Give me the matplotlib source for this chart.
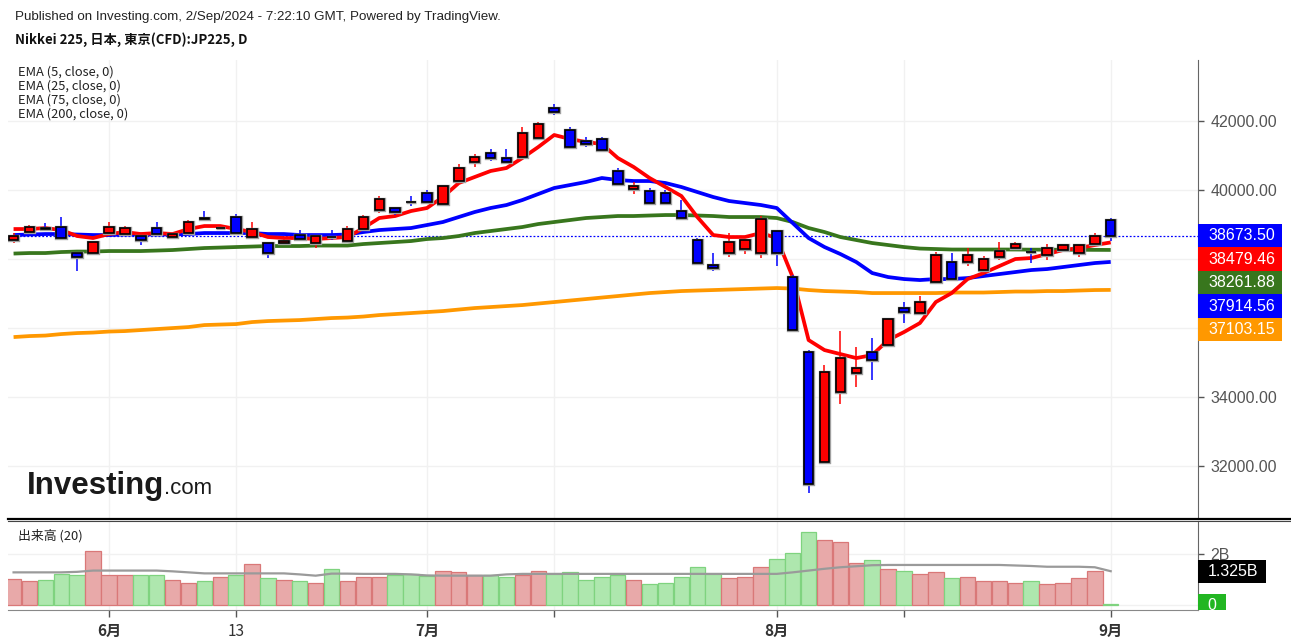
import numpy as np
import pandas as pd
import matplotlib
matplotlib.use("Agg")
import matplotlib.pyplot as plt
from matplotlib.patches import Rectangle
from matplotlib.transforms import Bbox, TransformedBbox

plt.rcParams['font.family'] = ['Liberation Sans', 'Noto Sans CJK JP', 'DejaVu Sans']

# trading days (Tokyo holidays 15 Jul and 12 Aug have no bar)
dates = [d for d in pd.bdate_range('2024-05-24', '2024-09-02')
         if d not in (pd.Timestamp('2024-07-15'), pd.Timestamp('2024-08-12'))]

opens = [38549, 38781, 38897, 38926, 38172, 38172, 38752, 38723, 38665, 38897,
         38636, 38752, 39187, 38885, 39216, 38636, 38462, 38462, 38694, 38462,
         38640, 38520, 38868, 39419, 39477, 39660, 39912, 39593, 40260, 40811,
         41072, 40927, 40956, 41507, 42377, 41739, 41420, 41478, 40550, 40028,
         39970, 39912, 39390, 38549, 37824, 38172, 38288, 38172, 38810, 37476,
         35301, 32111, 34141, 34692, 35301, 35504, 36577, 36432, 37331, 37911,
         37911, 37679, 38056, 38317, 38215, 38114, 38259, 38172, 38433, 39129]
highs = [38752, 38984, 39042, 39216, 38201, 38520, 39071, 38955, 38694, 39071,
         38752, 39129, 39390, 38930, 39303, 39071, 38491, 38578, 38839, 38694,
         38839, 38955, 39274, 39825, 39506, 39825, 39999, 40144, 40753, 41043,
         41188, 41188, 41826, 41971, 42493, 41826, 41536, 41536, 40637, 40231,
         40057, 39999, 39709, 38607, 38172, 38752, 38578, 39245, 38839, 37534,
         35359, 34924, 35910, 35446, 35707, 36287, 36751, 36925, 38201, 38172,
         38317, 38085, 38491, 38491, 38317, 38433, 38433, 38433, 38752, 39187]
lows = [38462, 38723, 38839, 38594, 37650, 38143, 38723, 38694, 38404, 38694,
        38607, 38723, 39143, 38870, 38723, 38607, 38027, 38433, 38549, 38317,
        38549, 38491, 38839, 39332, 39274, 39535, 39622, 39535, 40231, 40666,
        40840, 40782, 40927, 41478, 42174, 41217, 41246, 41130, 40144, 39883,
        39593, 39564, 39158, 37853, 37650, 38056, 38143, 38027, 37795, 35910,
        31212, 32082, 33793, 34286, 34489, 35475, 36142, 36403, 37302, 37389,
        37795, 37650, 37969, 38259, 37882, 37969, 38230, 38056, 38404, 38520]
closes = [38665, 38926, 38868, 38607, 38056, 38491, 38926, 38897, 38549, 38723,
          38723, 39071, 39158, 38900, 38752, 38868, 38172, 38520, 38578, 38665,
          38630, 38868, 39216, 39738, 39361, 39645, 39651, 40115, 40637, 40956,
          40927, 40811, 41652, 41913, 42261, 41246, 41333, 41159, 40173, 40115,
          39622, 39622, 39187, 37882, 37737, 38491, 38549, 39158, 38172, 35939,
          31473, 34721, 35127, 34837, 35069, 36258, 36461, 36751, 38114, 37418,
          38114, 37998, 38230, 38433, 38200, 38317, 38404, 38404, 38665, 38673.50]

ema5 = [38868, 38868, 38897, 38839, 38665, 38607, 38723, 38781, 38723, 38752,
        38723, 38868, 38955, 38955, 38868, 38781, 38636, 38607, 38607, 38578,
        38607, 38636, 38897, 39187, 39245, 39390, 39477, 39796, 40202, 40376,
        40550, 40637, 40927, 41246, 41594, 41478, 41391, 41333, 40927, 40666,
        40347, 40086, 39825, 39216, 38694, 38636, 38636, 38752, 38607, 37476,
        35649, 35359, 35243, 35127, 35214, 35649, 35881, 36142, 36751, 37012,
        37418, 37592, 37795, 37998, 38027, 38143, 38259, 38317, 38404, 38479.46]
ema25 = [38694, 38709, 38723, 38723, 38709, 38694, 38694, 38709, 38709, 38709,
         38709, 38723, 38752, 38752, 38752, 38752, 38723, 38723, 38694, 38694,
         38694, 38709, 38781, 38839, 38868, 38897, 38984, 39071, 39216, 39361,
         39477, 39564, 39709, 39883, 40057, 40144, 40231, 40347, 40289, 40260,
         40260, 40202, 40086, 39941, 39796, 39680, 39622, 39564, 39477, 39042,
         38607, 38346, 38143, 37911, 37592, 37476, 37418, 37389, 37418, 37418,
         37447, 37505, 37563, 37621, 37679, 37708, 37766, 37824, 37882, 37914.56]
ema75 = [38157, 38172, 38172, 38201, 38215, 38215, 38230, 38230, 38230, 38244,
         38259, 38288, 38317, 38331, 38346, 38360, 38375, 38375, 38375, 38389,
         38389, 38389, 38433, 38462, 38491, 38520, 38578, 38607, 38665, 38752,
         38810, 38868, 38926, 39013, 39071, 39129, 39187, 39216, 39245, 39245,
         39260, 39274, 39274, 39260, 39245, 39216, 39216, 39216, 39187, 39071,
         38897, 38781, 38636, 38549, 38462, 38404, 38346, 38302, 38288, 38274,
         38274, 38274, 38274, 38274, 38270, 38270, 38266, 38266, 38264, 38261.88]
ema200 = [35736, 35765, 35780, 35823, 35852, 35867, 35896, 35910, 35939, 35968,
          35997, 36026, 36084, 36099, 36113, 36171, 36200, 36215, 36229, 36258,
          36287, 36302, 36331, 36374, 36403, 36432, 36461, 36490, 36534, 36577,
          36606, 36635, 36664, 36708, 36751, 36795, 36838, 36882, 36925, 36969,
          37012, 37041, 37070, 37085, 37099, 37114, 37128, 37143, 37157, 37143,
          37099, 37070, 37056, 37041, 37012, 37012, 37012, 37012, 37012, 37027,
          37027, 37027, 37041, 37056, 37056, 37070, 37070, 37085, 37099, 37103.15]

# volume in billions, and its 20-day average
volume = [1.01, 0.94, 0.98, 1.22, 1.18, 2.12, 1.16, 1.16, 1.16, 1.16,
          0.98, 0.87, 0.94, 1.11, 1.18, 1.60, 1.06, 0.98, 0.94, 0.87,
          1.41, 0.94, 1.11, 1.11, 1.18, 1.23, 1.15, 1.35, 1.29, 1.16,
          1.16, 1.10, 1.18, 1.35, 1.23, 1.28, 0.99, 1.11, 1.18, 0.99,
          0.81, 0.87, 1.10, 1.48, 1.23, 1.06, 1.11, 1.48, 1.82, 2.05,
          2.87, 2.54, 2.46, 1.64, 1.76, 1.41, 1.33, 1.22, 1.28, 1.05,
          1.11, 0.93, 0.93, 0.86, 0.93, 0.81, 0.86, 1.05, 1.33, 0.02]
vol_ma = [1.28, 1.28, 1.28, 1.28, 1.30, 1.35, 1.35, 1.35, 1.35, 1.35,
          1.32, 1.28, 1.24, 1.24, 1.24, 1.24, 1.24, 1.24, 1.20, 1.15,
          1.23, 1.23, 1.22, 1.22, 1.22, 1.20, 1.16, 1.15, 1.15, 1.15,
          1.15, 1.20, 1.22, 1.22, 1.22, 1.22, 1.22, 1.22, 1.22, 1.22,
          1.22, 1.22, 1.22, 1.22, 1.22, 1.22, 1.22, 1.22, 1.22, 1.28,
          1.35, 1.42, 1.48, 1.52, 1.56, 1.57, 1.57, 1.57, 1.57, 1.57,
          1.57, 1.57, 1.57, 1.55, 1.53, 1.50, 1.50, 1.50, 1.48, 1.325]

tick_dates = ['2024-06-03', '2024-06-13', '2024-07-01', '2024-07-11',
              '2024-08-01', '2024-08-14', '2024-09-02']
tick_labels = ['6月', '13', '7月', '', '8月', '', '9月']
price_ticks = [32000, 34000, 36000, 38000, 40000, 42000]

RED, BLUE, GREEN, ORANGE = '#ff0000', '#0000ff', '#38761d', '#ff9800'

W, H = 1291, 644
fig = plt.figure(figsize=(W / 100, H / 100), dpi=100)


def fx(px):
    return px / W


def fy(py):
    return 1 - py / H


ax = fig.add_axes([fx(8), fy(518), fx(1198) - fx(8), fy(60) - fy(518)])
axv = fig.add_axes([fx(8), fy(610), fx(1198) - fx(8), fy(521) - fy(610)], sharex=ax)

x = np.arange(len(dates))
o, h, l, c = map(np.array, (opens, highs, lows, closes))
up = c >= o
cols = np.where(up, RED, BLUE)

# ---- price pane
ax.plot(x, ema200, color=ORANGE, lw=2.7, zorder=3, solid_capstyle='butt')
ax.plot(x, ema75, color=GREEN, lw=2.7, zorder=3, solid_capstyle='butt')
ax.plot(x, ema25, color=BLUE, lw=2.7, zorder=3, solid_capstyle='butt')
ax.plot(x, ema5, color=RED, lw=2.7, zorder=3, solid_capstyle='butt')
ax.axhline(closes[-1], color=BLUE, lw=0.9, ls=(0, (1.5, 1.5)), zorder=2)

ax.vlines(x, l, h, colors=cols, lw=1.1, zorder=4)
body_bottom = np.minimum(o, c)
body_h = np.maximum(np.abs(c - o), 12)
ax.bar(x, body_h, 0.6, bottom=body_bottom, color=cols, edgecolor='#a0a0a0',
       linewidth=2.4, zorder=4.5)
ax.bar(x, body_h, 0.6, bottom=body_bottom, color=cols, edgecolor='black',
       linewidth=1.2, zorder=5)

ax.set_xlim(-0.35, 74.49)
ax.set_ylim(30491, 43768)
ax.set_yticks(price_ticks)
ax.set_yticklabels([f'{v:.2f}' for v in price_ticks])
ax.yaxis.tick_right()
ax.tick_params(axis='y', colors='#555555', labelsize=11.5, length=4, width=1, pad=5)
ax.tick_params(axis='x', length=0, labelbottom=False)
ax.grid(True, color='#f1f1f1', lw=1, zorder=0)
for s in ('left', 'top'):
    ax.spines[s].set_visible(False)
ax.spines['right'].set_color('#666666')
ax.spines['bottom'].set_visible(False)

# price tags on the right, stacked so they do not overlap
tag_h = 681
tags = sorted([(closes[-1], BLUE if not up[-1] else RED), (ema5[-1], RED),
               (ema75[-1], GREEN), (ema25[-1], BLUE), (ema200[-1], ORANGE)],
              key=lambda t: -t[0])
prev = None
ytr = ax.get_yaxis_transform()
for v, col in tags:
    yc = v if prev is None else min(v, prev - tag_h)
    prev = yc
    ax.add_patch(Rectangle((1.0, yc - tag_h / 2), 84 / 1190, tag_h, transform=ytr,
                           facecolor=col, edgecolor='none', clip_on=False, zorder=10))
    ax.text(1.0 + 44 / 1190, yc, f'{v:.2f}', transform=ytr, color='white',
            ha='center', va='center', fontsize=11.5, zorder=11, clip_on=False)

# ---- volume pane
vcols = np.where(up, '#e8a9a9', '#aee7ae')
vedges = np.where(up, '#d97878', '#7fd37f')
axv.bar(x, volume, 0.97, color=vcols, edgecolor=vedges, linewidth=0.9, zorder=2)
axv.plot(x, vol_ma, color='#9a9a9a', lw=1.6, zorder=3)
axv.set_ylim(-0.196, 3.294)
axv.set_yticks([0, 2])
axv.set_yticklabels(['', '2B'])
axv.yaxis.tick_right()
axv.tick_params(axis='y', colors='#555555', labelsize=11.5, length=4, width=1, pad=5)
axv.grid(True, color='#f1f1f1', lw=1, zorder=0)
for s in ('left', 'top'):
    axv.spines[s].set_visible(False)
axv.spines['right'].set_color('#666666')
axv.spines['bottom'].set_color('#888888')

tick_pos = [dates.index(pd.Timestamp(d)) for d in tick_dates]
axv.set_xticks(tick_pos)
axv.set_xticklabels(tick_labels)
axv.tick_params(axis='x', length=5, width=1, colors='#555555', labelcolor='#333333',
                labelsize=11, pad=4)
for lab in axv.get_xticklabels():
    lab.set_fontfamily(['Noto Sans CJK JP', 'DejaVu Sans'])
    if '月' in lab.get_text():
        lab.set_fontweight('bold')

vtr = axv.get_yaxis_transform()
vtag_h = 0.90
axv.add_patch(Rectangle((1.0, vol_ma[-1] - vtag_h / 2), 68 / 1190, vtag_h, transform=vtr,
                        facecolor='black', edgecolor='none', clip_on=False, zorder=10))
axv.text(1.0 + 35 / 1190, vol_ma[-1], f'{vol_ma[-1]:.3f}B', transform=vtr, color='white',
         ha='center', va='center', fontsize=11.5, zorder=11, clip_on=False)
clipbox = TransformedBbox(Bbox([[1.0, 0.0], [1.2, 1.0]]), axv.transAxes)
r = axv.add_patch(Rectangle((1.0, 0 - vtag_h / 2), 28 / 1190, vtag_h, transform=vtr,
                            facecolor='#22b622', edgecolor='none', zorder=10))
r.set_clip_box(clipbox)
t = axv.text(1.0 + 14 / 1190, 0, '0', transform=vtr, color='white', ha='center',
             va='center', fontsize=11.5, zorder=11)
t.set_clip_box(clipbox)
t.set_clip_on(True)

# pane separator
fig.add_artist(plt.Line2D([fx(8), 1], [fy(518.5), fy(518.5)], color='black', lw=1.6))
fig.add_artist(plt.Line2D([fx(8), 1], [fy(521), fy(521)], color='#444444', lw=0.8))

# ---- texts
fig.text(fx(15), fy(17), 'Published on Investing.com, 2/Sep/2024 - 7:22:10 GMT, Powered by TradingView.',
         fontsize=9.6, color='#222222', va='center')
fig.text(fx(15), fy(40), 'Nikkei 225, 日本, 東京(CFD):JP225, D', fontsize=9.5,
         fontweight='bold', color='#111111', va='center',
         family=['Noto Sans CJK JP', 'DejaVu Sans'])
for i, lab in enumerate(['EMA (5, close, 0)', 'EMA (25, close, 0)',
                         'EMA (75, close, 0)', 'EMA (200, close, 0)']):
    fig.text(fx(18), fy(72 + 14 * i), lab, fontsize=9.3, color='#222222', va='center',
             family=['Noto Sans CJK JP', 'DejaVu Sans'])
fig.text(fx(18), fy(536), '出来高 (20)', fontsize=9.3, color='#222222', va='center',
         family=['Noto Sans CJK JP', 'DejaVu Sans'])

logo = fig.text(fx(27), fy(494), 'Investing', fontsize=22.5, fontweight='bold',
                color='#1a1a1a', va='baseline')
fig.canvas.draw()
bb = logo.get_window_extent()
fig.text(bb.x1 / W, fy(494), '.com', fontsize=16, color='#1a1a1a', va='baseline')

fig.savefig('out.png', dpi=100)
